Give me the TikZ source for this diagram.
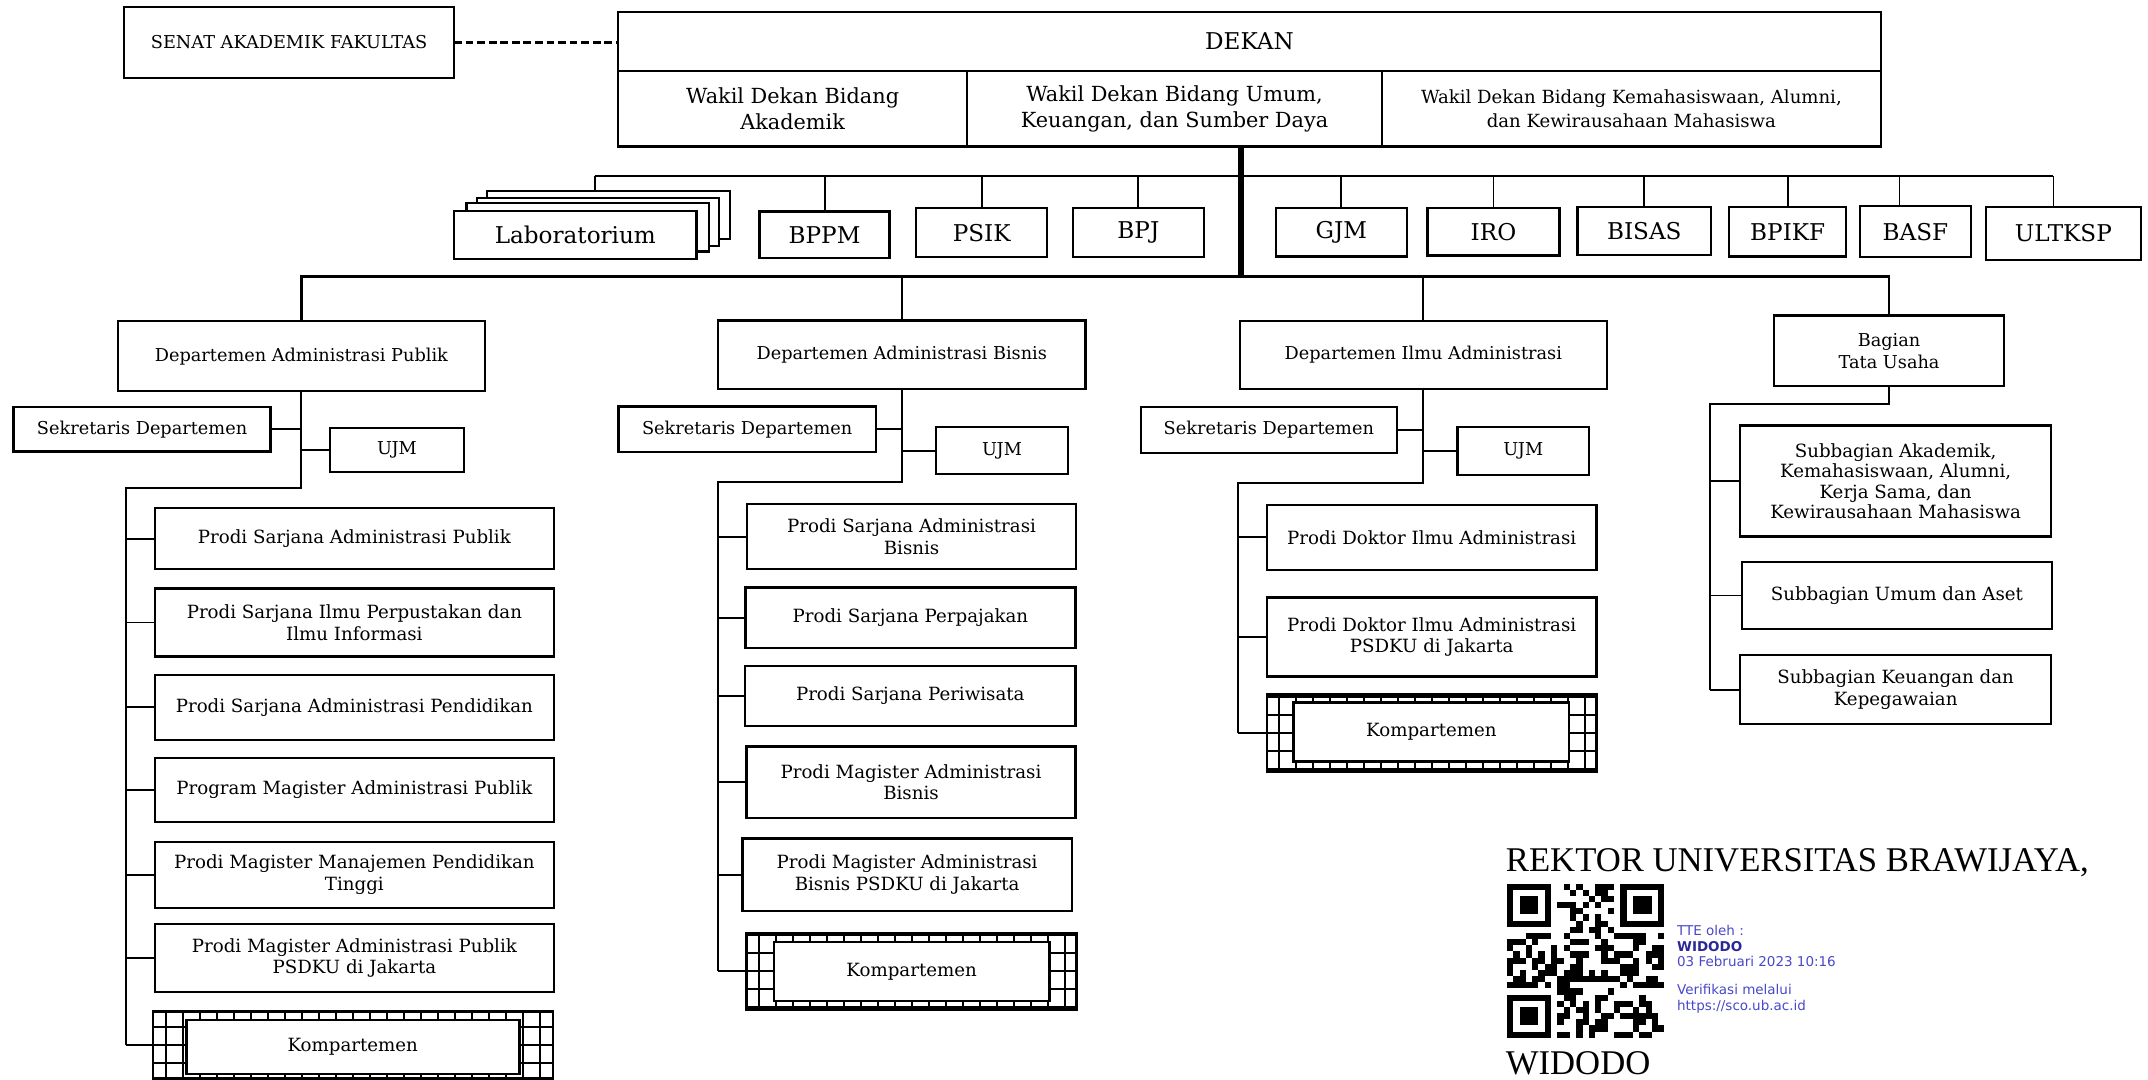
\documentclass[tikz,border=0pt]{standalone}
\usepackage{fontspec}
\setmainfont{DejaVu Serif}
\newfontfamily\signfont{Liberation Serif}
\newfontfamily\ttefont{DejaVu Sans}
\definecolor{tteblue}{RGB}{72,72,200}
\definecolor{ttedark}{RGB}{40,40,150}

\begin{document}
\begin{tikzpicture}[x=0.025cm, y=-0.025cm,
  box/.style={draw, line width=1.2pt, align=center, inner sep=0pt, outer sep=0pt, fill=white, font=\fontsize{9.45}{11.3}\selectfont},
  sz/.style 2 args={minimum width=#1*0.025cm, minimum height=#2*0.025cm},
  big/.style={font=\fontsize{12}{14}\selectfont},
  mid/.style={font=\fontsize{9.2}{11.2}\selectfont},
  conn/.style={line width=1pt},
  bus/.style={line width=1.3pt},
  trunk/.style={line width=3.2pt},
  komp/.style={draw, line width=1.3pt, outer sep=0pt, path picture={\draw[line width=1pt, xstep=0.31cm, ystep=0.33cm] (path picture bounding box.south west) grid (path picture bounding box.north east);}},
  sign/.style={anchor=base west, inner sep=0pt, font=\signfont\fontsize{18}{20}\selectfont}
]
\useasboundingbox (0,0) rectangle (1568,788);

% pimpinan
\node (senat) [box, sz={241}{52}, font=\fontsize{9.2}{11}\selectfont] at (211,31) {SENAT AKADEMIK FAKULTAS};
\node (dekan) [box, big, sz={922}{43.3}] at (912.1,30.2) {DEKAN};
\node (wd1) [box, sz={254.8}{55.2}, font=\fontsize{10.8}{13.8}\selectfont] at (578.6,79.4) {Wakil Dekan Bidang\\Akademik};
\node (wd2) [box, sz={302.8}{55.2}, font=\fontsize{10.8}{13.8}\selectfont] at (857.4,79.4) {Wakil Dekan Bidang Umum,\\Keuangan, dan Sumber Daya};
\node (wd3) [box, sz={364.2}{55.2}, font=\fontsize{9.4}{12.4}\selectfont] at (1190.9,79.4) {Wakil Dekan Bidang Kemahasiswaan, Alumni,\\dan Kewirausahaan Mahasiswa};
\draw [line width=1.3pt, dash pattern=on 4pt off 2pt] (senat.east) -- (senat.east -| dekan.west);

% unit penunjang
\node (lab4) [box, sz={177}{35.3}] at (444.2,157) {};
\node (lab3) [box, sz={177}{35.3}] at (436.5,162) {};
\node (lab2) [box, sz={177}{35.3}] at (429,166) {};
\node (lab) [box, big, sz={177}{35.3}] at (420,171.5) {Laboratorium};
\node (bppm) [box, big, sz={95}{34.1}] at (601.9,171.5) {BPPM};
\node (psik) [box, big, sz={95.6}{35.8}] at (716.6,169.9) {PSIK};
\node (bpj) [box, big, sz={95.6}{35.8}] at (831,169.9) {BPJ};
\node (gjm) [box, big, sz={95.6}{35.3}] at (979.1,169.7) {GJM};
\node (iro) [box, big, sz={96.3}{34.6}] at (1090.2,169.3) {IRO};
\node (bisas) [box, big, sz={97.4}{34.7}] at (1200.3,168.7) {BISAS};
\node (bpikf) [box, big, sz={85.4}{36.4}] at (1305,169.1) {BPIKF};
\node (basf) [box, big, sz={80.8}{37.4}] at (1398.2,169.1) {BASF};
\node (ultksp) [box, big, sz={112.9}{38.9}] at (1506.2,170.4) {ULTKSP};

\coordinate (busL) at (434,128.5);
\coordinate (busR) at (1499,128.5);
\coordinate (hub) at (906,202);
\draw [conn] (busL) -- (busR);
\draw [conn] (busL) -- (busL |- lab4.north);
\foreach \n in {bppm,psik,bpj,gjm,iro,bisas,bpikf}
  \draw [conn] (busL -| \n.north) -- (\n.north);
\draw [conn] ([xshift=-0.29cm]basf.north |- busL) -- ([xshift=-0.29cm]basf.north);
\draw [conn] (busR) -- (busR |- ultksp.north);
\draw [trunk] (wd2.south -| hub) -- (hub);

% departemen
\node (dap) [box, mid, sz={268}{51.3}] at (220,260) {Departemen Administrasi Publik};
\node (dab) [box, mid, sz={268}{50}] at (658.3,259) {Departemen Administrasi Bisnis};
\node (dia) [box, mid, sz={268}{49.5}] at (1039,259.2) {Departemen Ilmu Administrasi};
\node (btu) [box, mid, sz={168}{51.4}] at (1379,256.1) {Bagian\\Tata Usaha};
\draw [bus] (dap.north) |- (hub) -| (btu.north);
\draw [conn] (dab.north |- hub) -- (dab.north);
\draw [conn] (dia.north |- hub) -- (dia.north);

% departemen administrasi publik
\node (sap) [box, mid, sz={187.7}{32.4}] at (103.7,313.5) {Sekretaris Departemen};
\node (uap) [box, mid, sz={97.6}{32.1}] at (289.8,328.3) {UJM};
\node (pap1) [box, sz={291.6}{44.6}] at (258.7,393.3) {Prodi Sarjana Administrasi Publik};
\node (pap2) [box, sz={291.6}{49.8}] at (258.7,454.4) {Prodi Sarjana Ilmu Perpustakan dan\\Ilmu Informasi};
\node (pap3) [box, sz={291.6}{47.4}] at (258.7,516.4) {Prodi Sarjana Administrasi Pendidikan};
\node (pap4) [box, sz={291.6}{46.3}] at (258.7,576.7) {Program Magister Administrasi Publik};
\node (pap5) [box, sz={291.6}{48.6}] at (258.7,638.7) {Prodi Magister Manajemen Pendidikan\\Tinggi};
\node (pap6) [box, sz={291.6}{49.2}] at (258.7,699.3) {Prodi Magister Administrasi Publik\\PSDKU di Jakarta};
\node (kap) [komp, sz={291.9}{48.7}] at (257.7,762.8) {};
\node (kapt) [box, line width=1.4pt, sz={243}{39.5}] at (257.5,764.3) {Kompartemen};
\coordinate (eap) at (92,356);
\draw [conn] (dap.south) |- (eap) -- (eap |- kap.west);
\draw [conn] (sap.east) -- (sap.east -| dap.south);
\draw [conn] (uap.west) -- (uap.west -| dap.south);
\foreach \n in {pap1,pap2,pap3,pap4,pap5,pap6,kap}
  \draw [conn] (eap |- \n.west) -- (\n.west);

% departemen administrasi bisnis
\node (sab) [box, mid, sz={187.7}{33.4}] at (545.4,313.5) {Sekretaris Departemen};
\node (uab) [box, mid, sz={96.5}{34.1}] at (731.5,329) {UJM};
\node (pab1) [box, sz={240.6}{47.2}] at (665.4,391.7) {Prodi Sarjana Administrasi\\Bisnis};
\node (pab2) [box, sz={240.9}{44.5}] at (664.6,451) {Prodi Sarjana Perpajakan};
\node (pab3) [box, sz={241}{44}] at (664.5,508) {Prodi Sarjana Periwisata};
\node (pab4) [box, sz={240}{52}] at (665,571) {Prodi Magister Administrasi\\Bisnis};
\node (pab5) [box, sz={240.5}{53}] at (662.2,638.5) {Prodi Magister Administrasi\\Bisnis PSDKU di Jakarta};
\node (kab) [komp, sz={241}{56}] at (665.5,709) {};
\node (kabt) [box, line width=1.4pt, sz={201}{43}] at (665.5,709.1) {Kompartemen};
\coordinate (eab) at (524,351.6);
\draw [conn] (dab.south) |- (eab) -- (eab |- kab.west);
\draw [conn] (sab.east) -- (sab.east -| dab.south);
\draw [conn] (uab.west) -- (uab.west -| dab.south);
\foreach \n in {pab1,pab2,pab3,pab4,pab5,kab}
  \draw [conn] (eab |- \n.west) -- (\n.west);

% departemen ilmu administrasi
\node (sia) [box, mid, sz={186.9}{33.8}] at (926.2,313.9) {Sekretaris Departemen};
\node (uia) [box, mid, sz={96}{34.7}] at (1112,329.3) {UJM};
\node (pia1) [box, sz={240.8}{47.4}] at (1045.1,392.3) {Prodi Doktor Ilmu Administrasi};
\node (pia2) [box, sz={240.8}{57.5}] at (1045.1,465) {Prodi Doktor Ilmu Administrasi\\PSDKU di Jakarta};
\node (kia) [komp, sz={240.8}{56.5}] at (1045.1,535.1) {};
\node (kiat) [box, line width=1.4pt, sz={200.9}{43}] at (1044.9,534.5) {Kompartemen};
\coordinate (eia) at (904,352.3);
\draw [conn] (dia.south) |- (eia) -- (eia |- kia.west);
\draw [conn] (sia.east) -- (sia.east -| dia.south);
\draw [conn] (uia.west) -- (uia.west -| dia.south);
\foreach \n in {pia1,pia2,kia}
  \draw [conn] (eia |- \n.west) -- (\n.west);

% bagian tata usaha
\node (stu1) [box, sz={227}{81}, font=\fontsize{9.45}{10.5}\selectfont] at (1383.8,351.2) {Subbagian Akademik,\\Kemahasiswaan, Alumni,\\Kerja Sama, dan\\Kewirausahaan Mahasiswa};
\node (stu2) [box, sz={226.6}{49.4}] at (1384.7,434.7) {Subbagian Umum dan Aset};
\node (stu3) [box, sz={227}{50.7}] at (1383.8,503.4) {Subbagian Keuangan dan\\Kepegawaian};
\coordinate (etu) at (1248,295);
\draw [conn] (btu.south) |- (etu) -- (etu |- stu3.west);
\foreach \n in {stu1,stu2,stu3}
  \draw [conn] (etu |- \n.west) -- (\n.west);

% tanda tangan
\node (rektor) [sign] at (1099,636) {REKTOR UNIVERSITAS BRAWIJAYA,};
\node (widodo) [sign] at (1099,784) {WIDODO};
\begin{scope}[shift={(1100,645)}]
  \pgfmathsetseed{2023}
  \foreach \i in {0,...,24}
    \foreach \j in {0,...,24} {
      \pgfmathtruncatemacro\q{(rnd<0.5)*(1-(\i<8)*(\j<8)-(\i>16)*(\j<8)-(\i<8)*(\j>16))}
      \ifnum\q=1 \fill (\i*4.6,\j*4.5) rectangle ++(4.6,4.5); \fi
    }
  \foreach \a/\b in {0/0,18/0,0/18} {
    \fill (\a*4.6,\b*4.5) rectangle ++(7*4.6,7*4.5);
    \fill[white] (\a*4.6+4.6,\b*4.5+4.5) rectangle ++(5*4.6,5*4.5);
    \fill (\a*4.6+9.2,\b*4.5+9) rectangle ++(3*4.6,3*4.5);
  }
\end{scope}
\node (tte) [anchor=north west, inner sep=0pt, align=left, text=tteblue, font=\ttefont\fontsize{7}{8.2}\selectfont] at (1224,675) {TTE oleh :\\\textcolor{ttedark}{\bfseries WIDODO}\\03 Februari 2023 10:16\\[6pt]Verifikasi melalui\\https://sco.ub.ac.id};
\end{tikzpicture}
\end{document}
